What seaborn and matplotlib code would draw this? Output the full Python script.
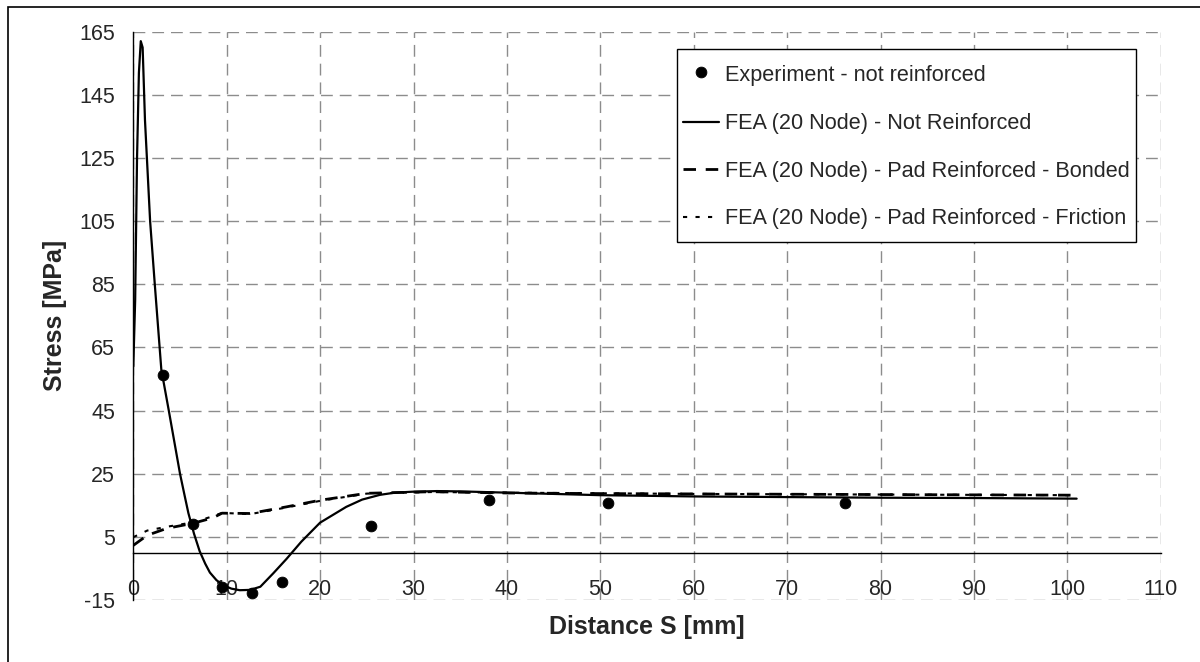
import matplotlib
matplotlib.use('Agg')
import matplotlib.pyplot as plt
from matplotlib.patches import Rectangle
import seaborn as sns

# Experimental points (distance in mm, stress in MPa)
x_exp = [3.175, 6.35, 9.525, 12.7, 15.875, 25.4, 38.1, 50.8, 76.2]
y_exp = [56.3, 9.0, -11.0, -12.9, -9.3, 8.5, 16.7, 15.6, 15.8]

# FEA - not reinforced
x_fea = [0, 0.2, 0.4, 0.6, 0.8, 1.0, 1.25, 1.8, 2.3, 3.0, 3.8, 4.4, 5.0, 5.5, 5.9, 6.5,
         7.1, 7.7, 8.2, 8.9, 9.6, 10.5, 11.4, 12.5, 13.6, 15.0, 16.4, 18.0, 20.0, 22.8,
         24.5, 26.4, 28.0, 29.9, 32.5, 35, 40, 50, 60, 70, 80, 90, 101]
y_fea = [59, 80, 125, 152, 162, 160, 137, 105, 85, 58, 45, 35, 25, 18, 12.5, 6,
         0.5, -3.5, -6.3, -8.7, -10.3, -11.4, -11.9, -11.8, -10.8, -6.5, -2, 3.5, 9.5, 14.5,
         16.8, 18.3, 19.0, 19.3, 19.5, 19.4, 19.0, 18.2, 17.8, 17.6, 17.4, 17.3, 17.1]

# FEA - pad reinforced, bonded
x_bond = [0, 1.5, 3.6, 6.4, 8.5, 9.5, 12.5, 16.4, 20, 25, 32, 40, 50, 60, 70, 80, 90, 101]
y_bond = [2.3, 5.5, 7.7, 9.3, 11.0, 12.5, 12.4, 14.5, 16.6, 18.8, 19.3, 18.9, 18.7, 18.6, 18.5, 18.4, 18.3, 18.2]

# FEA - pad reinforced, friction
x_fric = [0, 1.5, 3.6, 6.4, 8.5, 9.5, 12.5, 16.4, 20, 25, 32, 40, 50, 60, 70, 80, 90, 101]
y_fric = [4.9, 7.0, 8.2, 9.6, 11.5, 12.6, 12.2, 14.3, 16.4, 18.7, 19.2, 19.0, 18.8, 18.6, 18.5, 18.4, 18.3, 18.2]

x_ticks = list(range(0, 111, 10))
y_ticks = list(range(-15, 166, 20))

sns.set_style('white')
plt.rcParams['font.family'] = ['Liberation Sans', 'DejaVu Sans']
plt.rcParams['axes.unicode_minus'] = False

fig = plt.figure(figsize=(12, 6.62), dpi=100)
ax = fig.add_axes([133.3 / 1200, 1 - 600 / 662, (1160.7 - 133.3) / 1200, (600 - 31.7) / 662])

# outer chart frame (only left and top edges visible in the image)
fig.patches.append(Rectangle((8 / 1200, -0.2), 1.5, 1.2 - 7 / 662, transform=fig.transFigure,
                             fill=False, edgecolor='black', linewidth=1.2))

sns.lineplot(x=x_fea, y=y_fea, ax=ax, color='black', linewidth=1.6, sort=False,
             estimator=None, label='FEA (20 Node) - Not Reinforced')
sns.lineplot(x=x_bond, y=y_bond, ax=ax, color='black', linewidth=2.0, sort=False,
             estimator=None, linestyle=(0, (4.5, 3.5)), label='FEA (20 Node) - Pad Reinforced - Bonded')
sns.lineplot(x=x_fric, y=y_fric, ax=ax, color='black', linewidth=1.5, sort=False,
             estimator=None, linestyle=(0, (2, 4)), label='FEA (20 Node) - Pad Reinforced - Friction')
sns.scatterplot(x=x_exp, y=y_exp, ax=ax, color='black', s=60, edgecolor='black',
                label='Experiment - not reinforced', zorder=5)

ax.set_xlim(0, 110)
ax.set_ylim(-15, 165)
ax.set_xticks(x_ticks)
ax.set_yticks(y_ticks)
ax.grid(True, color='#8c8c8c', linestyle=(0, (8.5, 5)), linewidth=1.0)
ax.set_axisbelow(True)

for s in ['top', 'right']:
    ax.spines[s].set_visible(False)
ax.spines['bottom'].set_position(('data', 0))
ax.spines['bottom'].set_color('black')
ax.spines['bottom'].set_linewidth(1.0)
ax.spines['left'].set_color('black')
ax.spines['left'].set_linewidth(1.0)

ax.tick_params(axis='x', direction='out', length=5, width=1, color='black',
               pad=14, labelsize=15.5)
ax.tick_params(axis='y', direction='out', length=5, width=1, color='#555555',
               pad=8, labelsize=15.5)

ax.set_xlabel('Distance S [mm]', fontsize=18, fontweight='bold')
ax.set_ylabel('Stress [MPa]', fontsize=18, fontweight='bold')
ax.xaxis.set_label_coords(0.5, -0.027)
ax.yaxis.set_label_coords(-0.065, 0.5)

# legend box drawn separately so the entries can sit with Excel-like spacing
ax.add_patch(Rectangle((677 / 1200, 1 - 242 / 662), 459 / 1200, 193 / 662,
                       transform=fig.transFigure, facecolor='white', edgecolor='black',
                       linewidth=1.0, zorder=4.9, clip_on=False))

handles, labels = ax.get_legend_handles_labels()
order = [labels.index('Experiment - not reinforced'),
         labels.index('FEA (20 Node) - Not Reinforced'),
         labels.index('FEA (20 Node) - Pad Reinforced - Bonded'),
         labels.index('FEA (20 Node) - Pad Reinforced - Friction')]
leg = ax.legend([handles[i] for i in order], [labels[i] for i in order],
                loc='upper left', bbox_to_anchor=(683 / 1200, 1 - 65.5 / 662),
                bbox_transform=fig.transFigure, fontsize=15.6, frameon=False,
                borderpad=0, labelspacing=1.23, handlelength=1.66,
                handletextpad=0.28, borderaxespad=0, scatteryoffsets=[0.6])
leg.set_zorder(6)

fig.savefig('out.png', dpi=100)
